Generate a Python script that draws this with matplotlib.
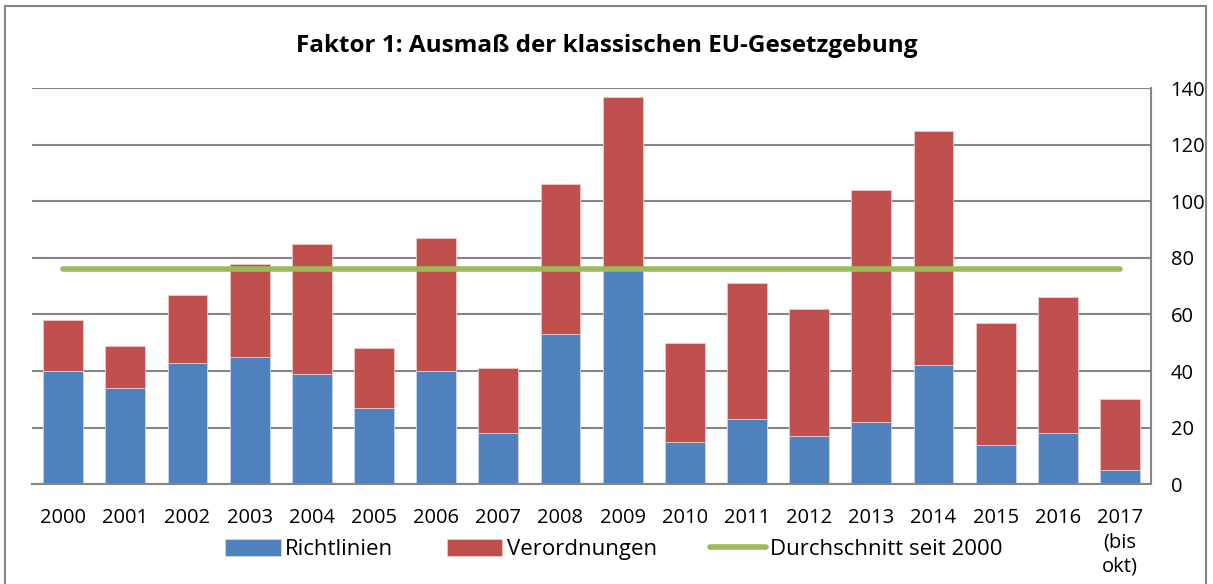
import matplotlib.pyplot as plt
from matplotlib.patches import Rectangle

years = ["2000", "2001", "2002", "2003", "2004", "2005", "2006", "2007", "2008",
         "2009", "2010", "2011", "2012", "2013", "2014", "2015", "2016", "2017\n(bis\nokt)"]
richtlinien = [40, 34, 43, 45, 39, 27, 40, 18, 53, 76, 15, 23, 17, 22, 42, 14, 18, 5]
totals = [58, 49, 67, 78, 85, 48, 87, 41, 106, 137, 50, 71, 62, 104, 125, 57, 66, 30]
verordnungen = [t - r for t, r in zip(totals, richtlinien)]
durchschnitt = [76] * len(years)

plt.rcParams['font.family'] = ['Liberation Sans Narrow', 'Open Sans', 'DejaVu Sans']

fig = plt.figure(figsize=(12.13, 5.84), dpi=100)
ax = fig.add_axes([0.0264, 0.171, 0.949 - 0.0264, 0.849 - 0.171])

x = list(range(len(years)))
b1 = ax.bar(x, richtlinien, width=0.64, color="#4F81BD", edgecolor="#c9d7ea", linewidth=0.6,
            label="Richtlinien", zorder=2)
b2 = ax.bar(x, verordnungen, bottom=richtlinien, width=0.64, color="#C0504D", edgecolor="#ecc9c8",
            linewidth=0.6, label="Verordnungen", zorder=2)
l1, = ax.plot(x, durchschnitt, color="#9BBB59", linewidth=4, solid_capstyle="round",
              label="Durchschnitt seit 2000", zorder=3)

ax.set_xlim(-0.5, len(years) - 0.5)
ax.set_ylim(0, 140)
ax.set_yticks(range(0, 141, 20))
ax.yaxis.tick_right()
ax.set_xticks(x)
ax.set_xticklabels(years, va="top", linespacing=1.3)
ax.tick_params(axis="both", length=0, labelsize=14.5, colors="black")
ax.tick_params(axis="y", pad=14)
ax.tick_params(axis="x", pad=17)
ax.grid(axis="y", color="#868686", linewidth=1.5, zorder=0)
ax.set_axisbelow(True)
for side in ["left", "top"]:
    ax.spines[side].set_visible(False)
ax.spines["right"].set_color("#868686")
ax.spines["right"].set_linewidth(1.5)
ax.spines["bottom"].set_color("#868686")
ax.spines["bottom"].set_linewidth(1.5)

fig.text(0.5, 0.922, "Faktor 1: Ausmaß der klassischen EU-Gesetzgebung", ha="center", va="center",
         fontsize=17.5, fontweight="bold")

fig.legend([b1, b2, l1], ["Richtlinien", "Verordnungen", "Durchschnitt seit 2000"],
           loc="center", bbox_to_anchor=(0.506, 0.059), ncol=3, frameon=False, fontsize=16,
           handlelength=2.5, handleheight=0.85, columnspacing=2.4, handletextpad=0.2)

fig.patches.append(Rectangle((0.004, -0.01), 0.99, 1.0, transform=fig.transFigure, fill=False,
                             edgecolor="#868686", linewidth=1.5))

plt.savefig("out.png", dpi=100)
